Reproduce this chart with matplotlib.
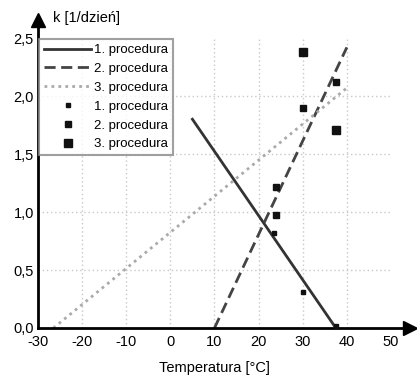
import matplotlib
matplotlib.use("Agg")
import matplotlib.pyplot as plt
from matplotlib.ticker import FuncFormatter

plt.rcParams['font.family'] = ['Liberation Sans', 'DejaVu Sans']

# --- data ---
line1_x = [5, 37.5]
line1_y = [1.8, 0.0]
line2_x = [10, 40]
line2_y = [0.0, 2.42]
line3_x = [-26.5, 40]
line3_y = [0.0, 2.07]

pts1_x = [23.5, 30, 37.5]
pts1_y = [0.82, 0.31, 0.02]
pts2_x = [24, 24, 30, 37.5]
pts2_y = [1.22, 0.97, 1.9, 2.12]
pts3_x = [30, 37.5]
pts3_y = [2.38, 1.71]

xticks = [-30, -20, -10, 0, 10, 20, 30, 40, 50]
yticks = [0.0, 0.5, 1.0, 1.5, 2.0, 2.5]

fig = plt.figure(figsize=(4.17, 3.78), dpi=100)
ax = fig.add_axes([0.0911, 0.1323, 0.8465, 0.767])

# grid
for gx in [-20, -10, 0, 10, 20, 30, 40]:
    ax.plot([gx, gx], [0, 2.5], color='#c8c8c8', lw=1, ls=(0, (1, 2)), zorder=1)
for gy in [0.5, 1.0, 1.5, 2.0]:
    ax.plot([-30, 50], [gy, gy], color='#c8c8c8', lw=1, ls=(0, (1, 2)), zorder=1)

ax.plot(line1_x, line1_y, color='#333333', lw=2, label='1. procedura', zorder=3)
ax.plot(line2_x, line2_y, color='#444444', lw=2, ls=(0, (4, 2)), label='2. procedura', zorder=3)
ax.plot(line3_x, line3_y, color='#aaaaaa', lw=2, ls=(0, (1, 1.5)), label='3. procedura', zorder=3)

ax.plot(pts1_x, pts1_y, 's', color='#111111', ms=3.5, ls='none', label='1. procedura',
        clip_on=False, zorder=6)
ax.plot(pts2_x, pts2_y, 's', color='#111111', ms=4.5, ls='none', label='2. procedura', zorder=4)
ax.plot(pts3_x, pts3_y, 's', color='#111111', ms=5.5, ls='none', label='3. procedura', zorder=4)

ax.set_xlim(-30, 50)
ax.set_ylim(0, 2.5)
ax.set_xticks(xticks)
ax.set_yticks(yticks)
ax.xaxis.set_major_formatter(FuncFormatter(lambda v, p: f"{v:.0f}"))
ax.yaxis.set_major_formatter(FuncFormatter(lambda v, p: f"{v:.1f}".replace('.', ',')))
ax.tick_params(length=0, labelsize=10.5)
ax.tick_params(axis='x', pad=5)
ax.tick_params(axis='y', pad=3)

for s in ax.spines.values():
    s.set_visible(False)

# axes with arrows
ax.plot([-30, 54], [0, 0], color='black', lw=2, clip_on=False, zorder=5)
ax.plot([-30, -30], [0, 2.62], color='black', lw=2, clip_on=False, zorder=5)
ax.plot([54.3], [0], '>', color='black', ms=9.5, clip_on=False, zorder=6)
ax.plot([-30], [2.66], '^', color='black', ms=9.5, clip_on=False, zorder=6)

ax.text(-26.5, 2.67, 'k [1/dzień]', fontsize=10.5, va='center', ha='left')
ax.set_xlabel('Temperatura [°C]', fontsize=10.5, labelpad=9)

leg = ax.legend(loc='upper left', bbox_to_anchor=(0.0, 1.0), fontsize=9.5,
                frameon=True, fancybox=False, borderpad=0.35, labelspacing=0.5,
                handlelength=3.6, handletextpad=0.2, borderaxespad=0.1)
leg.get_frame().set_edgecolor('#888888')
leg.get_frame().set_linewidth(1.5)
leg.set_zorder(7)

fig.savefig('out.png', dpi=100)
